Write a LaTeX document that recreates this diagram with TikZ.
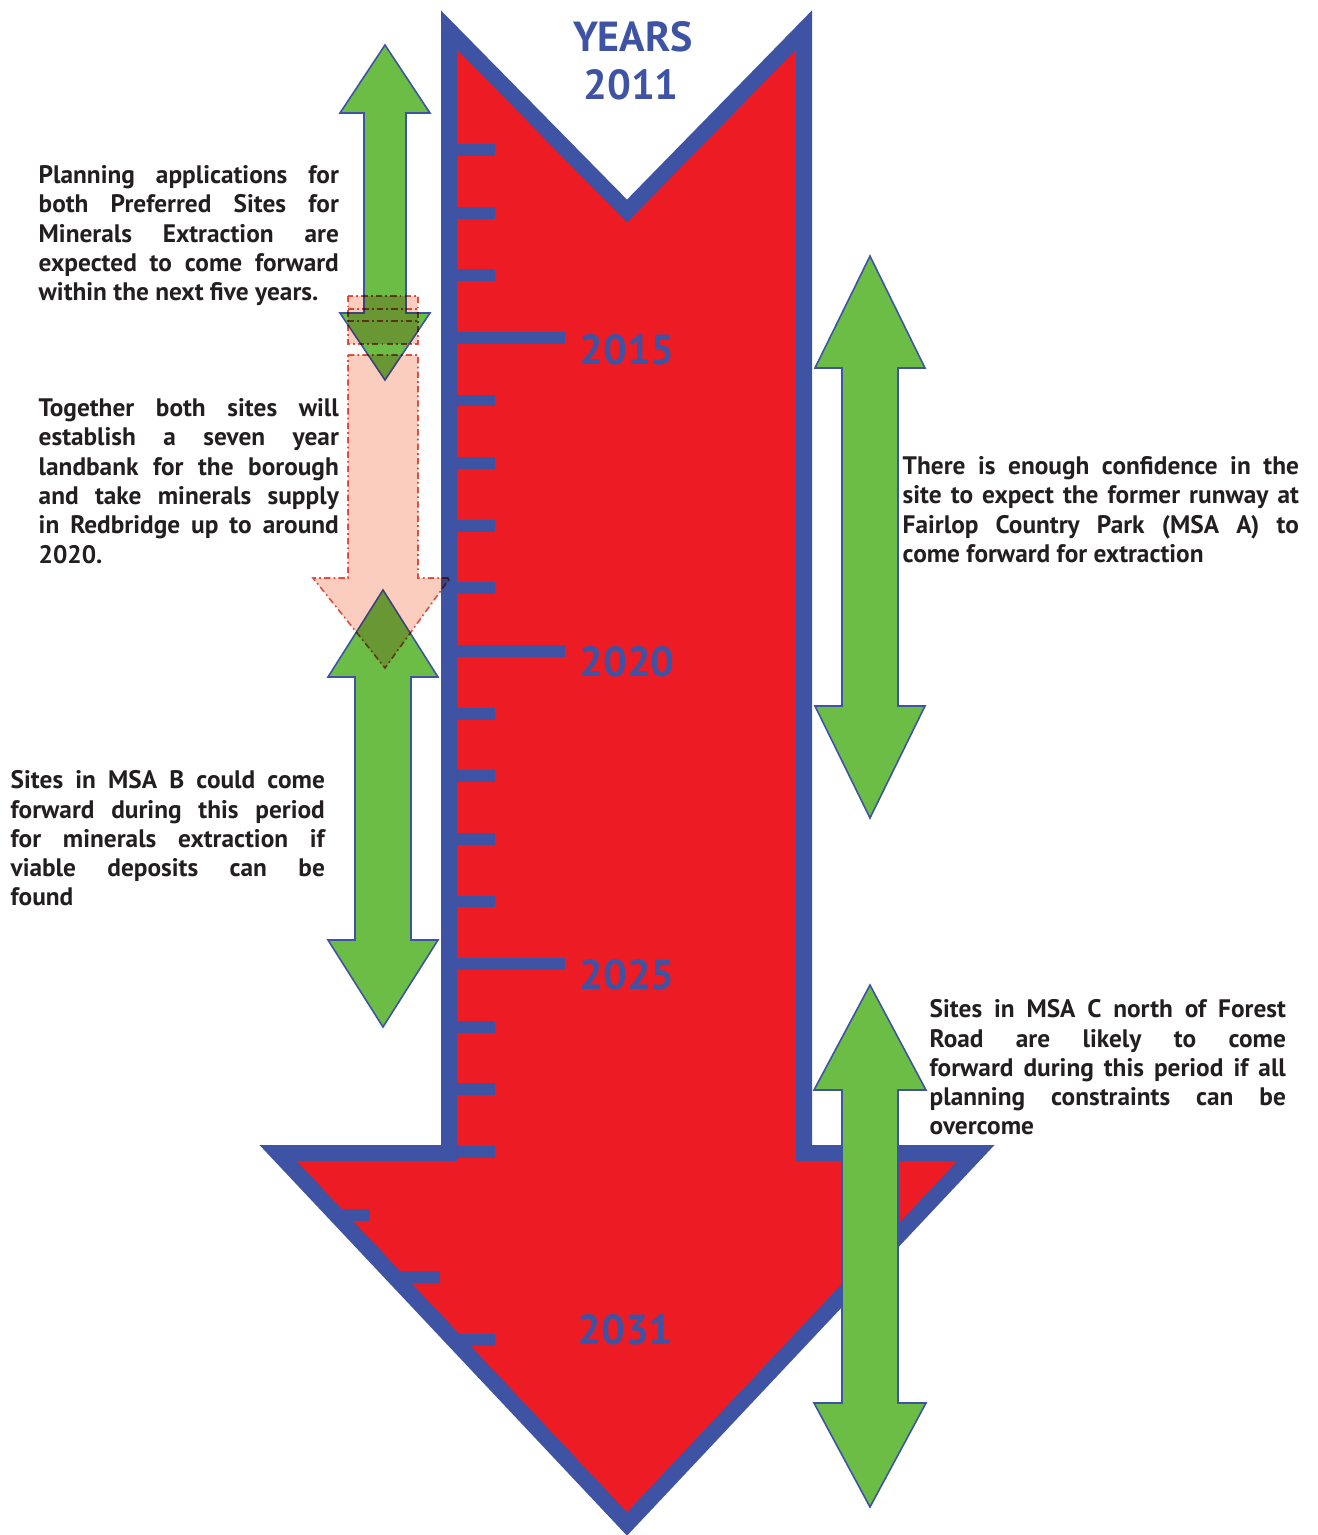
\documentclass[tikz,border=0pt]{standalone}
\usepackage{fontspec}
\setmainfont{PT Sans}

\definecolor{arrowred}{RGB}{237,28,36}
\definecolor{rulerblue}{RGB}{62,83,164}
\definecolor{arrowgreen}{RGB}{107,189,69}
\definecolor{pinkfill}{RGB}{250,205,190}
\definecolor{pinkdash}{RGB}{226,87,76}
\definecolor{notegray}{RGB}{35,31,32}

\tikzset{
  ruler/.style={draw=rulerblue, fill=arrowred, line width=4.55pt, line join=miter},
  tick/.style={draw=rulerblue, line width=3.4pt},
  yearlabel/.style={text=rulerblue, font=\fontsize{11.95pt}{14pt}\selectfont\bfseries, inner sep=0},
  greenarrow/.style={fill=arrowgreen, draw=rulerblue, line width=0.45pt, line join=miter},
  pinkarrow/.style={fill=pinkfill, draw=pinkdash, line width=0.45pt,
    dash pattern=on 1.8pt off 0.9pt on 0.5pt off 0.9pt},
  note/.style={font=\fontsize{7.2pt}{8.32pt}\selectfont\bfseries, text=notegray,
    inner sep=0, align=justify, anchor=north west},
}

\begin{document}
\begin{tikzpicture}[x=0.01cm, y=-0.01cm]
  \useasboundingbox (0,0) rectangle (1318,1535);

  % the big timeline arrow
  \path[ruler] (449,30) -- (627,211) -- (804,30) -- (804,1153) -- (976,1153)
    -- (627,1524) -- (278,1153) -- (449,1153) -- cycle;

  % ticks, one per year
  \foreach \k in {0,...,16}
    \draw[tick] (449,{150+62.625*\k}) -- (495,{150+62.625*\k});
  \foreach \k in {3,8,13}
    \draw[tick] (449,{150+62.625*\k}) -- (565,{150+62.625*\k});
  \draw[tick] (336,1214.6) -- (370,1214.6);
  \draw[tick] (395,1277.2) -- (440,1277.2);
  \draw[tick] (454,1339.9) -- (495,1339.9);

  \node[yearlabel] (years) at (633,37) {YEARS};
  \node[yearlabel] (y2011) at (631,85) {2011};
  \node[yearlabel] (y2015) at (627,350) {2015};
  \node[yearlabel] (y2020) at (627,662) {2020};
  \node[yearlabel] (y2025) at (627,975) {2025};
  \node[yearlabel] (y2031) at (625,1330) {2031};

  % green double arrows
  \path[greenarrow] (385,45) -- (430,113) -- (406,113) -- (406,313) -- (430,313)
    -- (385,380) -- (340,313) -- (364,313) -- (364,113) -- (340,113) -- cycle;
  \path[greenarrow] (383,590) -- (438,677) -- (411,677) -- (411,940) -- (438,940)
    -- (383,1027) -- (328,940) -- (355,940) -- (355,677) -- (328,677) -- cycle;
  \path[greenarrow] (870,256) -- (925,368) -- (898,368) -- (898,706) -- (925,706)
    -- (870,818) -- (815,706) -- (842,706) -- (842,368) -- (815,368) -- cycle;
  \path[greenarrow] (870,985) -- (926,1090) -- (898,1090) -- (898,1403) -- (926,1403)
    -- (870,1507) -- (814,1403) -- (842,1403) -- (842,1090) -- (814,1090) -- cycle;

  % pale landbank arrow
  \begin{scope}[blend mode=multiply]
    \path[pinkarrow] (348,296) rectangle (418,344);
    \draw[pinkarrow] (348,309) -- (418,309);
    \draw[pinkarrow] (348,321) -- (418,321);
    \path[pinkarrow] (348,355) -- (418,355) -- (418,578) -- (450,578) -- (385,668)
      -- (313,578) -- (348,578) -- cycle;
  \end{scope}

  % notes
  \node[note, text width=3cm] (planning) at (38,165) {%
    Planning applications for\linebreak
    both Preferred Sites for\linebreak
    Minerals Extraction are\linebreak
    expected to come forward\linebreak
    within the next five years.};
  \node[note, text width=3cm] (together) at (38,398) {%
    Together both sites will\linebreak
    establish a seven year\linebreak
    landbank for the borough\linebreak
    and take minerals supply\linebreak
    in Redbridge up to around\linebreak
    2020.};
  \node[note, text width=3.14cm] (msab) at (10,770) {%
    Sites in MSA B could come\linebreak
    forward during this period\linebreak
    for minerals extraction if\linebreak
    viable deposits can be\linebreak
    found};
  \node[note, text width=3.96cm] (msaa) at (902,456) {%
    There is enough confidence in the\linebreak
    site to expect the former runway at\linebreak
    Fairlop Country Park (MSA A) to\linebreak
    come forward for extraction};
  \node[note, text width=3.56cm] (msac) at (929,999) {%
    Sites in MSA C north of Forest\linebreak
    Road are likely to come\linebreak
    forward during this period if all\linebreak
    planning constraints can be\linebreak
    overcome};
\end{tikzpicture}
\end{document}
